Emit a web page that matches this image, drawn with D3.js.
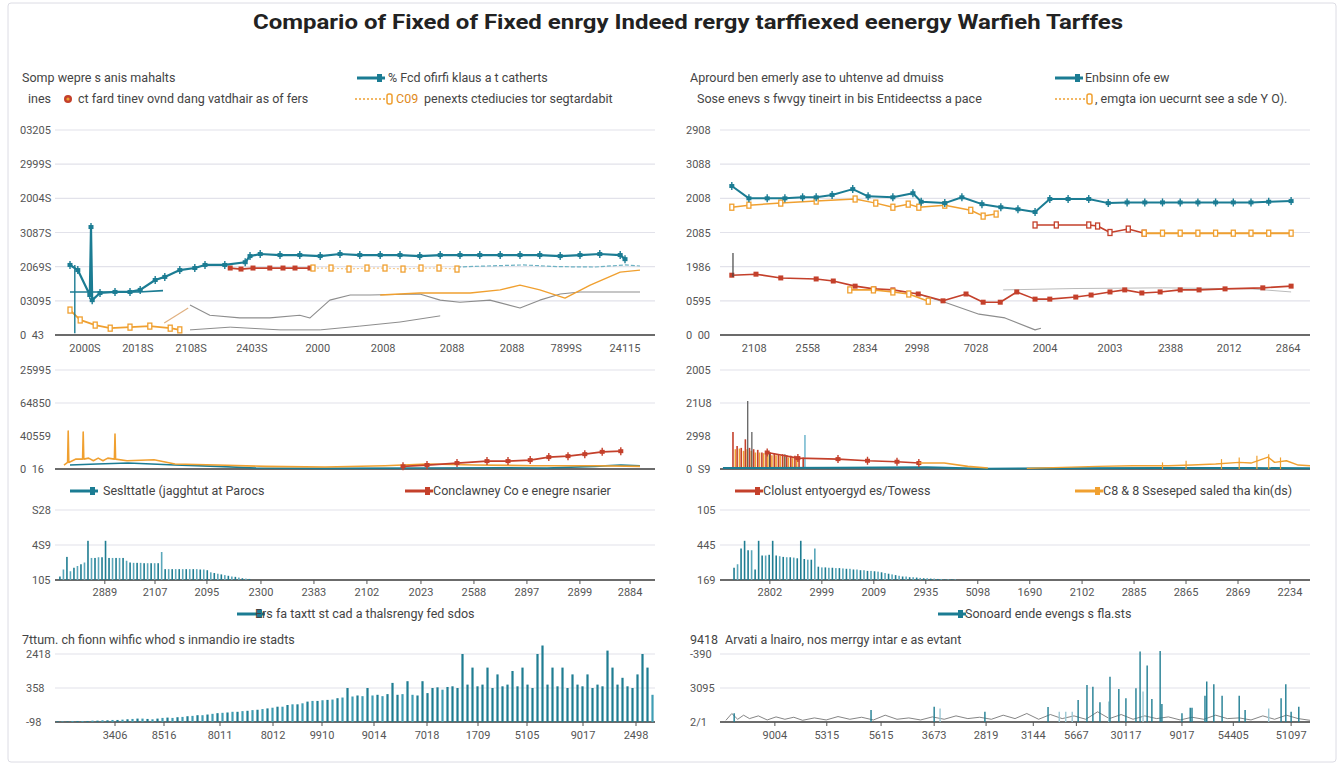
<!DOCTYPE html>
<html>
<head>
<meta charset="utf-8">
<script src="https://cdn.jsdelivr.net/npm/d3@7"></script>
<style>
body { margin: 0; background: #fff; }
text { font-family: Roboto, "Open Sans", sans-serif; }
.ylab, .xlab { font-size: 11px; fill: #555; }
.note { font-size: 12.5px; fill: #444; }
</style>
</head>
<body>
<div id="chart"></div>
<script>
const titleText = "Compario of Fixed of Fixed enrgy Indeed rergy tarffiexed eenergy Warfieh Tarffes";

// ---- top left panel
const p1YLabels = ["0  43", "03095", "2069S", "3087S", "2004S", "2999S", "03205"];
const p1XTicks = [5, 13.8, 22.7, 32.8, 43.8, 54.7, 66.2, 76.2, 85.2, 95];
const p1XLabels = ["2000S", "2018S", "2108S", "2403S", "2000", "2008", "2088", "2088", "7899S", "24115"];
const p1Teal = [[2.5,2.05],[3.8,1.9],[5.8,1.17],[6,3.16],[6.2,1.02],[7.5,1.23],[10,1.26],[12.5,1.26],[14.2,1.32],[16.7,1.61],[18.3,1.7],[20.8,1.9],[23.3,1.96],[25,2.05],[28.3,2.05],[31.7,2.13],[32.5,2.31],[34.2,2.37],[37.5,2.34],[40.8,2.34],[44.2,2.31],[47.5,2.37],[50.8,2.34],[54.2,2.34],[57.5,2.34],[60.8,2.31],[64.2,2.34],[67.5,2.34],[70.8,2.34],[74.2,2.34],[77.5,2.34],[80.8,2.34],[84.2,2.31],[87.5,2.34],[90.8,2.37],[94.2,2.34],[95,2.22]];
const p1TealDrop = [[3.3,2.05],[3.3,0.05]];
const p1TealLow = [[2.5,1.26],[8,1.26],[14,1.26],[18,1.3]];
const p1Red = [[29.2,1.96],[31,1.93],[33,1.96],[35.8,1.96],[38,1.96],[40,1.96],[42.5,1.96]];
const p1OrangeUp = [[43,1.96],[46,1.96],[49,1.93],[52,1.96],[55,1.96],[58,1.93],[61,1.96],[64,1.96],[67,1.93]];
const p1TealLight = [[67,1.99],[72,2.02],[78,2.05],[84,2.0],[90,1.99],[95,2.05],[97.5,2.02]];
const p1OrangeLow = [[2.5,0.73],[4.2,0.44],[6.7,0.29],[9.2,0.2],[12.5,0.23],[15.8,0.26],[19.2,0.2],[20.8,0.15]];
const p1OrangeRise = [[18.2,0.35],[22.2,0.79]];
const p1OrangeMid = [[54.2,1.17],[60.8,1.23],[69.2,1.23],[74.2,1.32],[77.5,1.46],[80.8,1.32],[85,1.08],[89.2,1.46],[94.2,1.84],[97.5,1.9]];
const p1Gray1 = [[22.5,0.88],[25.8,0.58],[30.8,0.5],[35.8,0.5],[40.8,0.58],[42.5,0.5],[45.8,1.02],[49.2,1.17],[52.5,1.17],[60.8,1.2],[64.2,1.02],[67.5,0.96],[72.5,1.02],[77.5,0.79],[80.8,1.02],[84.2,1.2],[87.5,1.26],[97.5,1.26]];
const p1Gray2 = [[22.5,0.15],[29.2,0.23],[37.5,0.15],[44.2,0.15],[50.8,0.26],[57.5,0.38],[64.2,0.56]];

// ---- top right panel
const p2YLabels = ["0  00", "0595", "1986", "2085", "2008", "3088", "2908"];
const p2XTicks = [5.8, 14.9, 24.6, 33.4, 43.4, 55.1, 66.1, 76.4, 86.3, 96.3];
const p2XLabels = ["2108", "2558", "2834", "2998", "7028", "2004", "2003", "2388", "2012", "2864"];
const p2Teal = [[2,4.36],[4.9,4.0],[8,4.0],[11,4.0],[14,4.03],[16.3,4.03],[19,4.1],[22.5,4.27],[25.1,4.06],[29.3,4.03],[32.7,4.15],[34.1,3.9],[38.1,3.86],[41,4.03],[44.4,3.83],[47.6,3.74],[50.5,3.68],[53.4,3.6],[55.9,3.98],[59,3.98],[62.5,3.98],[65.8,3.86],[69,3.88],[72,3.88],[75,3.88],[78,3.88],[81,3.88],[84,3.88],[87,3.88],[90,3.88],[93,3.9],[96.8,3.92]];
const p2OrangeUp = [[2,3.74],[4.9,3.8],[10.3,3.86],[16.3,3.92],[22.9,3.98],[26.4,3.86],[29.3,3.74],[31.9,3.83],[33.7,3.74],[38.1,3.8],[42.5,3.65],[44.6,3.48],[46.8,3.54]];
const p2RedMid = [[53.4,3.22],[57,3.22],[62.5,3.22],[64,3.19],[66.1,3.0],[69.2,3.1],[71.9,2.98]];
const p2OrangeMid = [[71.9,2.98],[75,2.98],[78,2.98],[81,2.98],[84,2.98],[87,2.98],[90,2.98],[93,2.98],[96.8,2.98]];
const p2RedLow = [[2,1.75],[6.1,1.78],[10.3,1.67],[16.3,1.64],[19.2,1.58],[22.9,1.43],[26.1,1.35],[29.3,1.32],[33.6,1.2],[37.8,1.0],[41.7,1.2],[44.6,0.96],[47.5,0.96],[50.3,1.26],[53.4,1.05],[55.9,1.05],[60.3,1.11],[62.9,1.17],[66.1,1.26],[68.6,1.32],[71.5,1.23],[74.6,1.26],[78,1.32],[81.2,1.32],[85.6,1.35],[92,1.38],[96.8,1.43]];
const p2OrangeLow = [[22,1.32],[26,1.32],[29.3,1.26],[32,1.2],[35.3,0.99]];
const p2GrayDown = [[33,1.23],[38.1,0.96],[43.9,0.61],[48.3,0.5],[53.4,0.15],[54.4,0.2]];
const p2GrayLight = [[48,1.32],[60,1.36],[75,1.38],[90,1.35],[96.8,1.26]];
const p2Spike = [[2.2,2.4],[2.2,1.7]];

// ---- middle left panel
const p3YLabels = ["0  16", "40559", "64850", "25995"];
const p3Orange = [[1.5,0.12],[2.1,0.2],[2.2,1.15],[2.3,0.2],[3.5,0.3],[4.6,0.3],[4.7,1.12],[4.8,0.3],[5.6,0.33],[6.4,0.25],[7.2,0.33],[8,0.25],[8.8,0.33],[9.9,0.3],[10,1.06],[10.1,0.3],[12,0.25],[16.5,0.28],[20,0.15],[27,0.12],[35,0.08],[45,0.06],[55,0.1],[62,0.15],[70,0.12],[80,0.1],[90,0.1],[97.5,0.08]];
const p3Teal = [[2.5,0.12],[7,0.15],[12.2,0.18],[20,0.12],[27,0.08],[33.5,0.03],[45,0.02],[60,0.03],[75,0.04],[82,0.03],[90,0.08],[94.3,0.12],[97.5,0.1]];
const p3Red = [[58,0.08],[62,0.12],[67,0.18],[72,0.24],[75.5,0.24],[79.2,0.27],[82.3,0.36],[85.5,0.39],[88.3,0.45],[91.2,0.52],[94.3,0.54]];

// ---- middle right panel
const p4YLabels = ["0  S9", "2998", "21U8", "2005"];
const p4RedBars = [[2.2,1.12],[2.9,0.7],[3.6,0.64],[4.3,0.9],[5.0,0.64],[5.7,0.6],[6.4,0.58],[7.1,0.5],[7.8,0.5],[8.5,0.5],[9.2,0.48],[9.9,0.45],[10.6,0.45],[11.3,0.42],[12,0.4],[12.7,0.4],[13.4,0.38],[14.1,0.35]];
const p4OrangeBars = [[2.6,0.6],[3.3,0.62],[4,0.55],[4.6,0.6],[5.3,0.55],[6,0.5],[6.7,0.5],[7.4,0.48],[8.1,0.45],[8.8,0.42],[9.5,0.42],[10.2,0.4],[10.9,0.38],[11.6,0.35],[12.3,0.33],[13,0.3]];
const p4GrayBars = [[4.7,2.06],[5.4,1.12],[8.4,0.5],[11,0.45]];
const p4TealBars = [[14.4,1.03]];
const p4Red = [[8,0.5],[13.2,0.33],[20,0.3],[25,0.25],[30,0.22],[33.7,0.18]];
const p4Orange = [[33.7,0.18],[38,0.18],[42,0.08],[45.4,0.03]];
const p4Teal = [[0.5,0.03],[20,0.04],[35,0.05],[45,0.01],[60,0.02],[75,0.03],[90,0.03],[100,0.02]];
const p4OrangeRight = [[52,0.02],[58,0.05],[64,0.08],[70,0.1],[76,0.1],[80,0.12],[84,0.15],[88,0.2],[90,0.18],[92.9,0.36],[94,0.2],[96,0.25],[98,0.12],[100,0.1]];
const p4OrangeRightBars = [[75,0.2],[79,0.25],[85,0.3],[88,0.35],[91,0.4],[93,0.45],[95,0.35]];

// ---- third row bars
const p5YLabels = ["105", "4S9", "S28"];
const p5XTicks = [14.2, 28.5, 43.3, 58.7, 73.8, 88.9, 104.3, 119.4, 134.5, 149.6, 163.9];
const p5XLabels = ["2889", "2107", "2095", "2300", "2383", "2102", "2023", "2588", "2897", "2899", "2884"];
const p5Bars = [0.1,0.3,0.66,0.25,0.35,0.4,0.45,0.5,1.12,0.63,0.63,0.65,0.65,1.12,0.63,0.63,0.63,0.63,0.63,0.55,0.5,0.49,0.49,0.49,0.48,0.48,0.48,0.48,0.48,0.8,0.31,0.31,0.31,0.31,0.31,0.31,0.31,0.31,0.31,0.31,0.3,0.3,0.28,0.22,0.2,0.18,0.16,0.14,0.12,0.1,0.09,0.07,0.05,0.04,0.03];
const p6YLabels = ["169", "445", "105"];
const p6XTicks = [14.2, 29.0, 43.8, 58.6, 73.4, 88.2, 103.1, 117.9, 132.7, 147.5, 162.3];
const p6XLabels = ["2802", "2999", "2009", "2935", "5098", "1690", "2102", "2885", "2865", "2869", "2234"];
const p6Bars = [0.35,0.45,0.9,1.12,0.85,0.85,0.3,1.12,0.7,0.7,0.72,1.12,0.7,0.68,0.66,0.65,0.65,0.64,0.62,1.12,0.6,0.58,0.58,0.9,0.38,0.36,0.36,0.35,0.35,0.34,0.34,0.33,0.32,0.32,0.3,0.3,0.28,0.28,0.26,0.26,0.25,0.24,0.22,0.2,0.18,0.16,0.14,0.12,0.1,0.1,0.08,0.08,0.07,0.06,0.05,0.05,0.04,0.04,0.03,0.03,0.02,0.02,0.02,0.02];

// ---- bottom row
const p7YLabels = ["-98", "358", "2418"];
const p7XTicks = [12, 21.8, 33, 43.6, 53.4, 63.8, 74.4, 84.6, 94.4, 105.6, 116.2];
const p7XLabels = ["3406", "8516", "8011", "8012", "9910", "9014", "7018", "1709", "5105", "9017", "2498"];
const p7Bars = [0.02,0.02,0.02,0.03,0.03,0.03,0.03,0.04,0.04,0.05,0.05,0.06,0.06,0.07,0.08,
  0.09,0.1,0.1,0.09,0.08,0.1,0.12,0.13,0.12,0.14,
  0.15,0.17,0.18,0.2,0.2,0.22,0.24,0.26,0.27,0.28,0.3,0.3,
  0.32,0.33,0.35,0.36,0.38,0.4,0.42,0.45,0.45,0.5,0.52,0.52,0.55,
  0.6,0.62,0.62,0.64,0.65,0.66,0.7,
  0.72,1.0,0.75,0.78,0.76,1.0,0.78,0.8,0.76,0.82,1.15,0.8,0.82,1.2,0.8,0.78,1.2,0.85,
  1.0,1.02,0.95,1.03,1.05,1.0,
  2.0,1.1,1.6,1.05,1.1,1.6,1.0,1.4,1.05,1.1,1.5,1.05,1.6,1.1,1.0,2.0,2.25,1.1,1.6,1.05,1.6,1.0,1.4,1.1,1.05,1.4,1.0,1.1,1.05,2.1,1.6,1.1,1.3,1.05,1.0,1.4,2.0,1.6,0.8];
const p8YLabels = ["2/1", "3095", "-390"];
const p8XTicks = [9.3, 18.1, 27.3, 36.3, 45.1, 53.1, 60.4, 68.8, 78.3, 87, 96.8];
const p8XLabels = ["9004", "5315", "5615", "3673", "2819", "3144", "5667", "30117", "9017", "54405", "51097"];
const p8Dark = [[2.4,0.26],[25.6,0.35],[36.3,0.45],[44.9,0.3],[55.6,0.44],[60.7,0.65],[62.2,1.09],[63.2,1.04],[64.4,0.58],[66.1,1.33],[67.6,0.97],[68.8,0.7],[70.5,0.99],[71.2,2.07],[72.4,1.66],[73.2,0.68],[74.6,2.09],[74.9,0.53],[78.3,0.26],[79.7,0.42],[80,0.42],[82.2,0.77],[82.5,1.19],[83.7,1.11],[85.1,0.77],[88,0.77],[89,0.35],[95.1,0.7],[95.9,1.11],[96.8,0.3],[98.1,0.45]];
const p8Light = [[37.3,0.4],[57.5,0.3],[58.6,0.3],[59.7,0.3],[65.9,0.6],[71.7,0.9],[93,0.4]];
const p8Noise = [[1,0.05],[2,0.25],[3,0.08],[4,0.2],[5,0.1],[6.5,0.18],[8,0.06],[9.5,0.15],[11,0.08],[12.5,0.14],[14,0.05],[16,0.12],[18,0.06],[20,0.16],[22,0.08],[24,0.14],[26,0.06],[28,0.2],[30,0.08],[32,0.12],[34,0.06],[36,0.15],[38,0.08],[40,0.18],[42,0.1],[44,0.14],[46,0.08],[48,0.2],[50,0.1],[52,0.25],[54,0.08],[56,0.22],[58,0.1],[60,0.18],[62,0.08],[64,0.3],[66,0.1],[68,0.22],[70,0.08],[72,0.18],[74,0.1],[76,0.15],[78,0.06],[80,0.14],[82,0.08],[84,0.2],[86,0.1],[88,0.12],[90,0.06],[92,0.18],[94,0.08],[96,0.2],[98,0.1],[100,0.05]];

const teal = "#1b7c93", tealLight = "#6db2c3", red = "#c4402b", orange = "#f0a030", gray = "#8d8d8d";

const svg = d3.select("#chart").append("svg")
    .attr("width", 1344)
    .attr("height", 768);

svg.append("rect")
    .attr("x", 8).attr("y", 3).attr("width", 1328).attr("height", 759)
    .attr("rx", 3)
    .attr("fill", "none").attr("stroke", "#dcdce4");

svg.append("text")
    .attr("x", 688).attr("y", 29)
    .attr("text-anchor", "middle")
    .attr("font-size", 21).attr("font-weight", "bold").attr("fill", "#222")
    .attr("textLength", 870).attr("lengthAdjust", "spacingAndGlyphs")
    .text(titleText);

function makePanel(x0, x1, yTop, yBase, xMax, yMax) {
    return {
        x: d3.scaleLinear().domain([0, xMax]).range([x0, x1]),
        y: d3.scaleLinear().domain([0, yMax]).range([yBase, yTop])
    };
}

function drawFrame(p, yLabels, labelX, gridFrom, xTicks, xLabels, xLabelY, ticks) {
    const [x0, x1] = p.x.range();
    const vals = yLabels.map((d, i) => i);
    svg.append("g").selectAll("line")
        .data(vals.filter(v => v >= gridFrom))
        .join("line")
        .attr("x1", x0).attr("x2", x1)
        .attr("y1", d => p.y(d)).attr("y2", d => p.y(d))
        .attr("stroke", "#e2e2ea").attr("stroke-width", 1.2);
    svg.append("g").selectAll("text")
        .data(vals)
        .join("text")
        .attr("class", "ylab")
        .attr("x", labelX).attr("y", d => p.y(d) + 4)
        .style("white-space", "pre")
        .text(d => yLabels[d]);
    svg.append("line")
        .attr("x1", x0).attr("x2", x1)
        .attr("y1", p.y(0)).attr("y2", p.y(0))
        .attr("stroke", "#3a3a3a").attr("stroke-width", 1.3);
    if (!xTicks) return;
    const g = svg.append("g");
    if (ticks) {
        g.selectAll("line").data(xTicks).join("line")
            .attr("x1", d => p.x(d)).attr("x2", d => p.x(d))
            .attr("y1", p.y(0)).attr("y2", p.y(0) + 4)
            .attr("stroke", "#555");
    }
    g.selectAll("text").data(xTicks).join("text")
        .attr("class", "xlab")
        .attr("text-anchor", "middle")
        .attr("x", d => p.x(d)).attr("y", xLabelY)
        .text((d, i) => xLabels[i]);
}

function drawLine(p, data, color, width, dash) {
    svg.append("path")
        .datum(data)
        .attr("d", d3.line().x(d => p.x(d[0])).y(d => p.y(d[1])))
        .attr("fill", "none")
        .attr("stroke", color)
        .attr("stroke-width", width)
        .attr("stroke-dasharray", dash || null)
        .attr("stroke-linejoin", "round");
}

function drawMarkers(p, data, color, shape) {
    const g = svg.append("g");
    data.forEach(d => {
        const cx = p.x(d[0]), cy = p.y(d[1]);
        if (shape === "tick") {
            g.append("line").attr("x1", cx).attr("x2", cx).attr("y1", cy - 4).attr("y2", cy + 4)
                .attr("stroke", color).attr("stroke-width", 1.4);
            g.append("rect").attr("x", cx - 2.5).attr("y", cy - 2).attr("width", 5).attr("height", 4).attr("fill", color);
        } else if (shape === "open") {
            g.append("rect").attr("x", cx - 2).attr("y", cy - 3).attr("width", 4).attr("height", 6)
                .attr("fill", "#fff").attr("stroke", color).attr("stroke-width", 1.3);
        } else {
            g.append("rect").attr("x", cx - 2.5).attr("y", cy - 2.5).attr("width", 5).attr("height", 5).attr("fill", color);
        }
    });
}

function drawSticks(p, data, color, width) {
    svg.append("g").selectAll("line").data(data).join("line")
        .attr("x1", d => p.x(d[0])).attr("x2", d => p.x(d[0]))
        .attr("y1", p.y(0)).attr("y2", d => p.y(d[1]))
        .attr("stroke", color).attr("stroke-width", width);
}

function drawBars(p, data, offset, colorA, colorB, w) {
    svg.append("g").selectAll("rect").data(data).join("rect")
        .attr("x", (d, i) => p.x(i + offset) - w / 2)
        .attr("width", w)
        .attr("y", d => p.y(d))
        .attr("height", d => p.y(0) - p.y(d))
        .attr("fill", (d, i) => d > 0.95 ? colorA : (i % 2 ? colorB : colorA));
}

function note(x, y, str, size) {
    return svg.append("text").attr("class", "note").attr("x", x).attr("y", y)
        .attr("font-size", size || null).text(str);
}

function legendSym(x, y, color, kind) {
    if (kind === "dotted") {
        svg.append("line").attr("x1", x).attr("x2", x + 30).attr("y1", y).attr("y2", y)
            .attr("stroke", color).attr("stroke-width", 1.5).attr("stroke-dasharray", "2,2");
        svg.append("rect").attr("x", x + 32).attr("y", y - 5).attr("width", 5).attr("height", 10)
            .attr("fill", "#fff").attr("stroke", color).attr("stroke-width", 1.5).attr("rx", 2);
    } else {
        svg.append("line").attr("x1", x).attr("x2", x + 28).attr("y1", y).attr("y2", y)
            .attr("stroke", color).attr("stroke-width", 3);
        svg.append("rect").attr("x", x + 20).attr("y", y - 4).attr("width", 5).attr("height", 8).attr("fill", color);
    }
}

// top legends
note(22, 82, "Somp wepre s anis mahalts");
note(28, 103, "ines");
svg.append("circle").attr("cx", 68).attr("cy", 99).attr("r", 4).attr("fill", red);
svg.append("circle").attr("cx", 68).attr("cy", 99).attr("r", 1.6).attr("fill", orange);
note(78, 103, "ct fard tinev ovnd dang vatdhair as of fers");
legendSym(357, 78, teal, "solid");
note(388, 82, "% Fcd ofirfi klaus a t catherts");
legendSym(355, 99, orange, "dotted");
svg.append("text").attr("class", "note").attr("x", 396).attr("y", 103).attr("fill", "#e08a1c").style("fill", "#e08a1c").text("C09");
note(424, 103, "penexts ctediucies tor segtardabit");
note(690, 82, "Aprourd ben emerly ase to uhtenve ad dmuiss");
note(697, 103, "Sose enevs s fwvgy tineirt in bis Entideectss a pace");
legendSym(1055, 78, teal, "solid");
note(1085, 82, "Enbsinn ofe ew");
legendSym(1055, 99, orange, "dotted");
note(1095, 103, ", emgta ion uecurnt see a sde Y O).");

// panel 1
const P1 = makePanel(55, 655, 130, 335, 100, 6);
drawFrame(P1, p1YLabels, 20, 1, p1XTicks, p1XLabels, 352, false);
drawLine(P1, p1Gray2, gray, 1);
drawLine(P1, p1Gray1, gray, 1.1);
drawLine(P1, p1TealLight, tealLight, 1.2, "4,2");
drawLine(P1, p1OrangeMid, orange, 1.4);
drawLine(P1, p1OrangeLow, orange, 1.8);
drawLine(P1, p1OrangeRise, "#e0b080", 1.2);
drawMarkers(P1, p1OrangeLow, orange, "open");
drawLine(P1, p1TealLow, teal, 1.6);
drawLine(P1, p1TealDrop, teal, 1.4);
drawLine(P1, p1Red, red, 1.8);
drawMarkers(P1, p1Red, red, "square");
drawLine(P1, p1OrangeUp, "#f5c88a", 1.2, "2,2");
drawMarkers(P1, p1OrangeUp, orange, "open");
drawLine(P1, p1Teal, teal, 2.2);
drawMarkers(P1, p1Teal, teal, "tick");

// panel 2
const P2 = makePanel(720, 1310, 130, 335, 100, 6);
drawFrame(P2, p2YLabels, 686, 1, p2XTicks, p2XLabels, 352, false);
drawLine(P2, p2GrayLight, "#bbb", 1);
drawLine(P2, p2GrayDown, gray, 1.1);
drawLine(P2, p2RedLow, red, 1.6);
drawMarkers(P2, p2RedLow, red, "square");
drawLine(P2, p2OrangeLow, orange, 1.6);
drawMarkers(P2, p2OrangeLow, orange, "open");
drawLine(P2, p2OrangeUp, orange, 1.5);
drawMarkers(P2, p2OrangeUp, orange, "open");
drawLine(P2, p2RedMid, red, 1.6);
drawMarkers(P2, p2RedMid, red, "open");
drawLine(P2, p2OrangeMid, orange, 2);
drawMarkers(P2, p2OrangeMid, orange, "open");
drawLine(P2, p2Teal, teal, 2);
drawMarkers(P2, p2Teal, teal, "tick");
drawLine(P2, p2Spike, "#444", 1.2);

// panel 3
const P3 = makePanel(55, 655, 370, 469, 100, 3);
drawFrame(P3, p3YLabels, 20, 2, null);
drawLine(P3, p3Teal, teal, 1.6);
drawLine(P3, p3Orange, orange, 1.6);
drawLine(P3, p3Red, red, 1.8);
drawMarkers(P3, p3Red, red, "tick");
legendSym(70, 491, teal, "solid");
note(103, 495, "Seslttatle (jagghtut at Parocs");
legendSym(405, 491, red, "solid");
note(433, 495, "Conclawney Co e enegre nsarier");

// panel 4
const P4 = makePanel(720, 1310, 370, 469, 100, 3);
drawFrame(P4, p4YLabels, 686, 2, null);
drawSticks(P4, p4OrangeBars, orange, 1.6);
drawSticks(P4, p4RedBars, red, 1.6);
drawSticks(P4, p4GrayBars, "#555", 1.2);
drawSticks(P4, p4TealBars, "#4aa3c0", 1.2);
drawLine(P4, p4Teal, teal, 2);
drawLine(P4, p4Red, red, 1.6);
drawMarkers(P4, p4Red, red, "tick");
drawLine(P4, p4Orange, orange, 1.6);
drawSticks(P4, p4OrangeRightBars, orange, 1.2);
drawLine(P4, p4OrangeRight, orange, 1.4);
legendSym(735, 491, red, "solid");
note(763, 495, "Clolust entyoergyd es/Towess");
legendSym(1075, 491, orange, "solid");
note(1103, 495, "C8 & 8 Sseseped saled tha kin(ds)");

// panel 5
const P5 = makePanel(55, 655, 510, 580, 171, 2);
drawFrame(P5, p5YLabels, 32, 1, p5XTicks, p5XLabels, 596, true);
drawBars(P5, p5Bars, 1.4, "#1f7d92", "#5aa7ba", 1.6);
legendSym(237, 614, teal, "solid");
note(255, 618, "Ers fa taxtt st cad a thalsrengy fed sdos");

// panel 6
const P6 = makePanel(720, 1310, 510, 580, 168, 2);
drawFrame(P6, p6YLabels, 697, 1, p6XTicks, p6XLabels, 596, true);
drawBars(P6, p6Bars, 4, "#1f7d92", "#5aa7ba", 1.6);
legendSym(938, 614, teal, "solid");
note(965, 618, "Sonoard ende evengs s fla.sts");

// panel 7
const P7 = makePanel(55, 655, 654, 722, 120, 2);
note(22, 644, "7ttum. ch fionn wihfic whod s inmandio ire stadts");
drawFrame(P7, p7YLabels, 26, 1, p7XTicks, p7XLabels, 739, true);
drawBars(P7, p7Bars, 0.5, "#1f7d92", "#3f9db4", 2.2);

// panel 8
const P8 = makePanel(720, 1310, 654, 722, 100, 2);
note(690, 644, "9418");
note(725, 644, "Arvati a lnairo, nos merrgy intar e as evtant");
drawFrame(P8, p8YLabels, 690, 1, p8XTicks, p8XLabels, 739, true);
drawLine(P8, p8Noise, "#666", 0.8);
drawSticks(P8, p8Light, "#9cc8d4", 1.4);
drawSticks(P8, p8Dark, "#1f7d92", 1.4);
</script>
</body>
</html>
